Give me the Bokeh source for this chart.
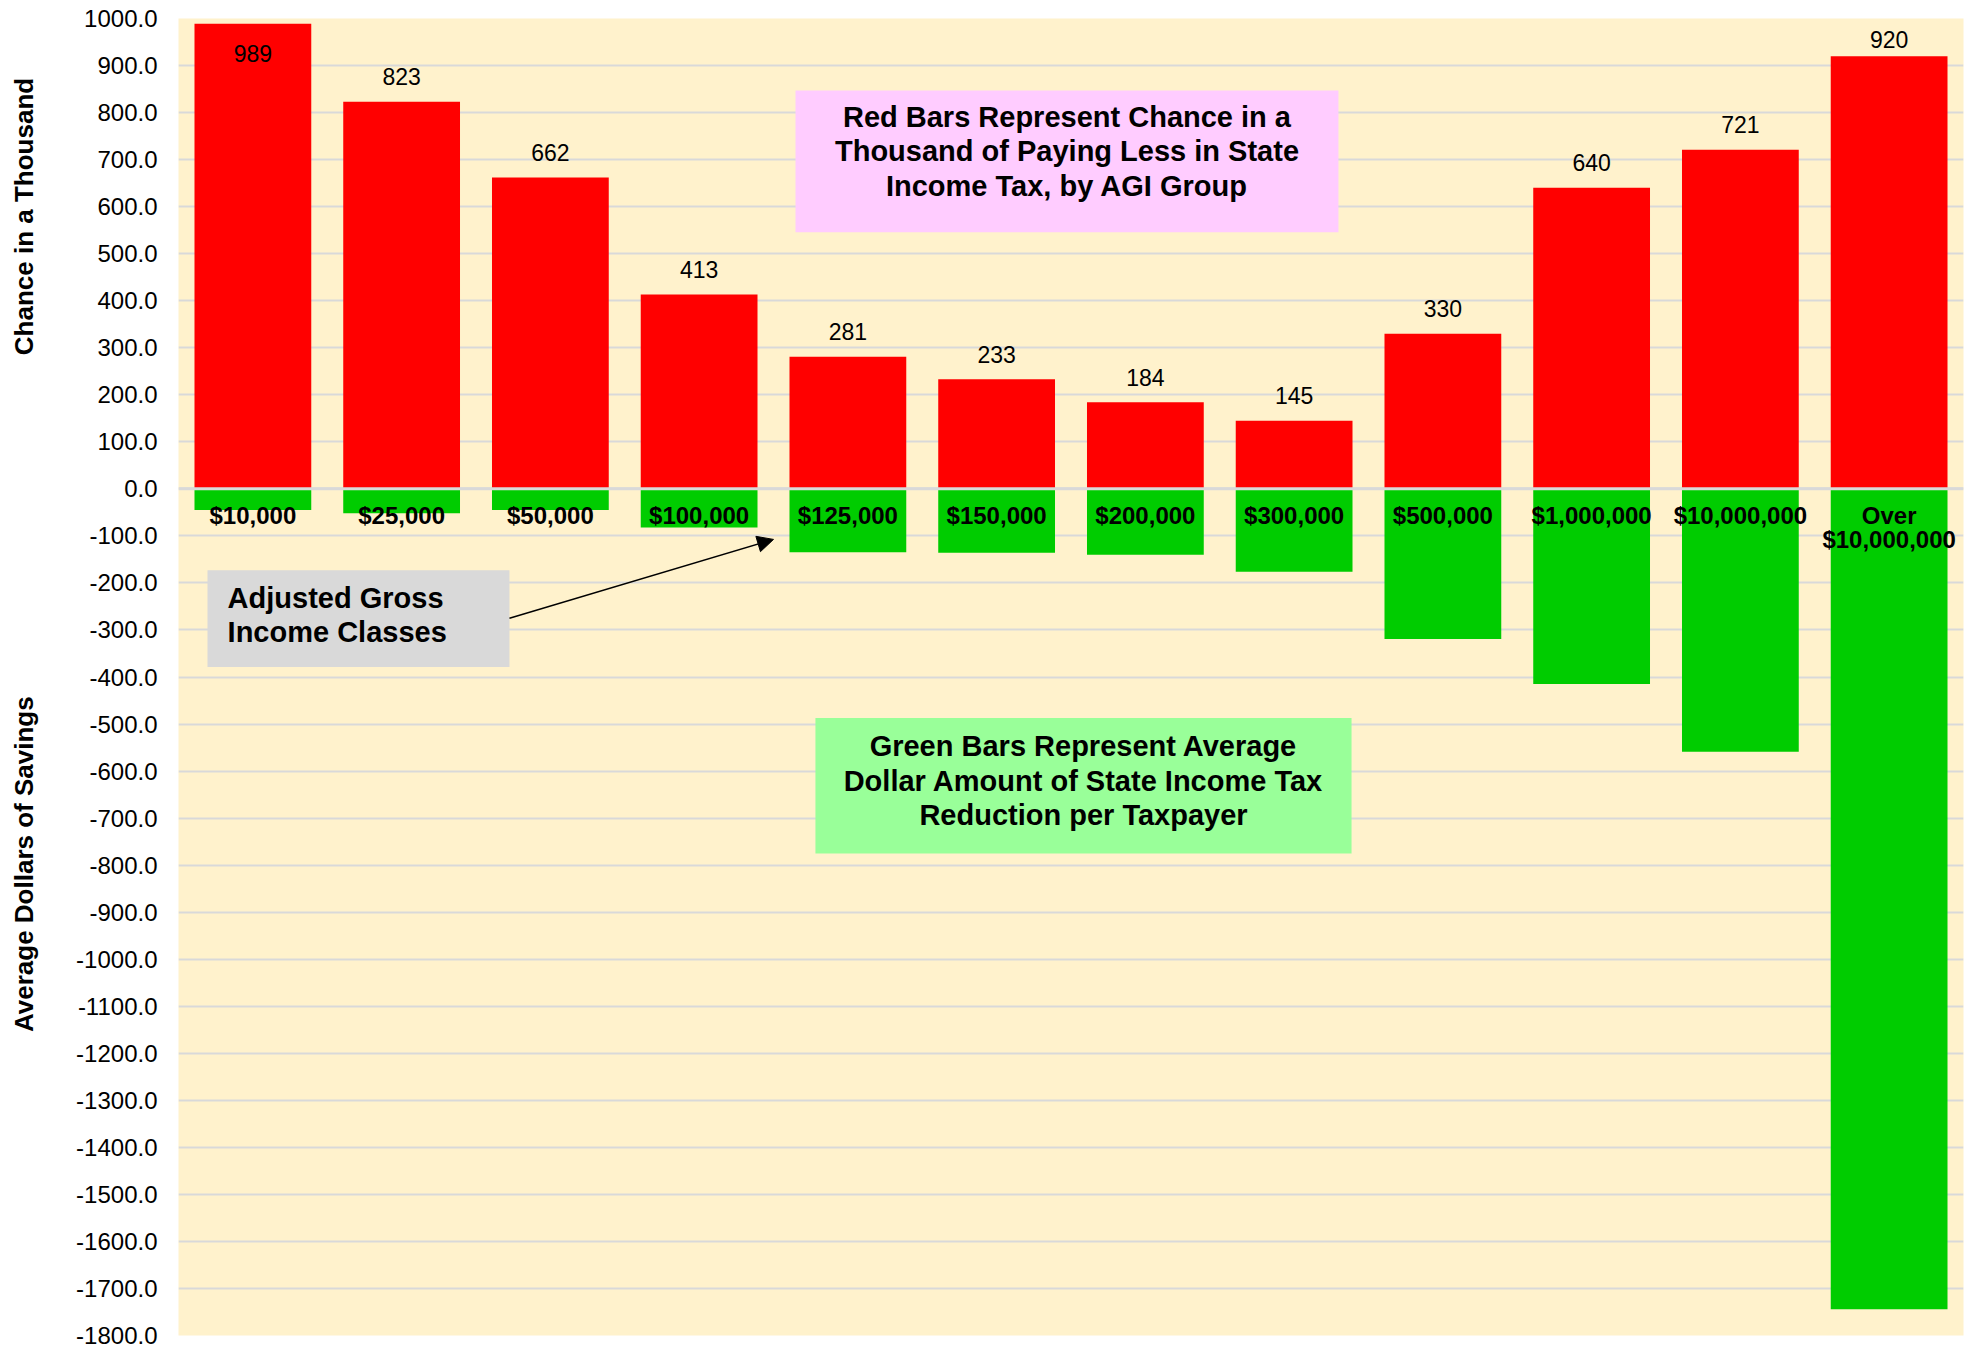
import math
from bokeh.plotting import figure
from bokeh.layouts import row
from bokeh.models import (ColumnDataSource, FactorRange, Range1d, FixedTicker,
                          NumeralTickFormatter, Span, BoxAnnotation, Label, Arrow, NormalHead)
from bokeh.core.properties import value
from bokeh.embed import file_html
from bokeh.resources import INLINE

# ---------------- data ----------------
categories = ["$10,000", "$25,000", "$50,000", "$100,000", "$125,000", "$150,000",
              "$200,000", "$300,000", "$500,000", "$1,000,000", "$10,000,000",
              "Over $10,000,000"]
category_labels = ["$10,000", "$25,000", "$50,000", "$100,000", "$125,000", "$150,000",
                   "$200,000", "$300,000", "$500,000", "$1,000,000", "$10,000,000",
                   "Over\n$10,000,000"]
chance_per_thousand = [989, 823, 662, 413, 281, 233, 184, 145, 330, 640, 721, 920]
avg_savings = [-45, -52, -45, -82, -135, -136, -140, -176, -319, -415, -559, -1744]
y_ticks = list(range(-1800, 1001, 100))
axis_titles = ["Chance in a Thousand", "Average Dollars of Savings"]
axis_title_centers = [579, -798]

FONT = "Liberation Sans"
Y_MIN, Y_MAX = -1800, 1000
FRAME_W, FRAME_H = 1785, 1317
TOP_B, BOT_B = 18, 13
PX_PER_UNIT = FRAME_H / (Y_MAX - Y_MIN)

n = len(categories)


# value labels: 25px above the bar, kept inside the plot; inside the bar when no room
def label_offset(v):
    off = max(-25.0, 21.0 - (Y_MAX - v) * PX_PER_UNIT)
    return 30.0 if off > 0 else off


val_offsets = [label_offset(v) for v in chance_per_thousand]

src = ColumnDataSource(dict(
    cat=categories,
    lab=category_labels,
    chance=chance_per_thousand,
    savings=avg_savings,
    zero=[0] * n,
    vlab=[str(v) for v in chance_per_thousand],
    voff=val_offsets,
))

y_range = Range1d(Y_MIN, Y_MAX)

p = figure(x_range=FactorRange(factors=categories, range_padding=0),
           y_range=y_range,
           frame_width=FRAME_W, frame_height=FRAME_H,
           output_backend="svg", toolbar_location=None, x_axis_location=None,
           min_border_left=138, min_border_right=6,
           min_border_top=TOP_B, min_border_bottom=BOT_B,
           background_fill_color="#FFF2CC", border_fill_color="white",
           outline_line_color=None)

# grid
p.xgrid.visible = False
p.ygrid.grid_line_color = "#D9D9D9"
p.ygrid.grid_line_width = 2

# y axis
ax = p.yaxis[0]
ax.ticker = FixedTicker(ticks=y_ticks)
ax.formatter = NumeralTickFormatter(format="0.0")
ax.major_label_text_font = FONT
ax.major_label_text_font_size = "24px"
ax.major_label_text_color = "black"
ax.axis_line_color = None
ax.major_tick_line_color = None
ax.minor_tick_line_color = None
ax.major_tick_in = 0
ax.major_tick_out = 0
ax.major_label_standoff = 21

# bars
p.vbar(x="cat", top="chance", bottom="zero", width=0.785, source=src,
       fill_color="#FF0000", line_color=None)
p.vbar(x="cat", top="zero", bottom="savings", width=0.785, source=src,
       fill_color="#00CC00", line_color=None)

# zero line between red and green
p.add_layout(Span(location=0, dimension="width", line_color="#D9D9D9", line_width=3))

# value labels
p.text(x="cat", y="chance", text="vlab", source=src, y_offset="voff",
       text_align="center", text_baseline="middle",
       text_font=value(FONT), text_font_size="23px", text_color="black")

# category labels near zero
p.text(x="cat", y="zero", text="lab", source=src, y_offset=13,
       text_align="center", text_baseline="top", text_line_height=0.9,
       text_font=value(FONT), text_font_size="24px", text_font_style="bold",
       text_color="black")

# annotation boxes
p.add_layout(BoxAnnotation(left=4.148, right=7.798, bottom=545.6, top=846.7,
                           fill_color="#FFCCFF", fill_alpha=1, line_color=None))
p.add_layout(Label(x=5.973, y=718, text="Red Bars Represent Chance in a\nThousand of Paying Less in State\nIncome Tax, by AGI Group",
                   text_align="center", text_baseline="middle", text_line_height=1.08,
                   text_font=FONT, text_font_size="29px", text_font_style="bold",
                   text_color="black"))

p.add_layout(BoxAnnotation(left=4.282, right=7.886, bottom=-775.5, top=-487,
                           fill_color="#99FF99", fill_alpha=1, line_color=None))
p.add_layout(Label(x=6.084, y=-621, text="Green Bars Represent Average\nDollar Amount of State Income Tax\nReduction per Taxpayer",
                   text_align="center", text_baseline="middle", text_line_height=1.08,
                   text_font=FONT, text_font_size="29px", text_font_style="bold",
                   text_color="black"))

p.add_layout(BoxAnnotation(left=0.195, right=2.225, bottom=-378.9, top=-173.2,
                           fill_color="#D9D9D9", fill_alpha=1, line_color=None))
p.add_layout(Label(x=0.33, y=-268, text="Adjusted Gross\nIncome Classes",
                   text_align="left", text_baseline="middle", text_line_height=1.08,
                   text_font=FONT, text_font_size="29px", text_font_style="bold",
                   text_color="black"))

p.add_layout(Arrow(x_start=2.225, y_start=-275, x_end=4.0, y_end=-107.5,
                   line_color="black", line_width=1.5,
                   end=NormalHead(size=16, fill_color="black", line_color="black")))

# narrow figure on the left carrying the two axis titles
t = figure(x_range=Range1d(0, 40), y_range=y_range,
           frame_width=40, frame_height=FRAME_H,
           output_backend="svg", toolbar_location=None,
           x_axis_location=None, y_axis_location=None,
           min_border_left=0, min_border_right=0,
           min_border_top=TOP_B, min_border_bottom=BOT_B,
           background_fill_color="white", border_fill_color="white",
           outline_line_color=None)
t.grid.visible = False
t.text(x=[23, 23], y=axis_title_centers, text=axis_titles, angle=math.pi / 2,
       text_align="center", text_baseline="middle",
       text_font=value(FONT), text_font_size="26px", text_font_style="bold",
       text_color="black")

layout = row(t, p, spacing=0)
open("out.html", "w").write(file_html(layout, INLINE))
